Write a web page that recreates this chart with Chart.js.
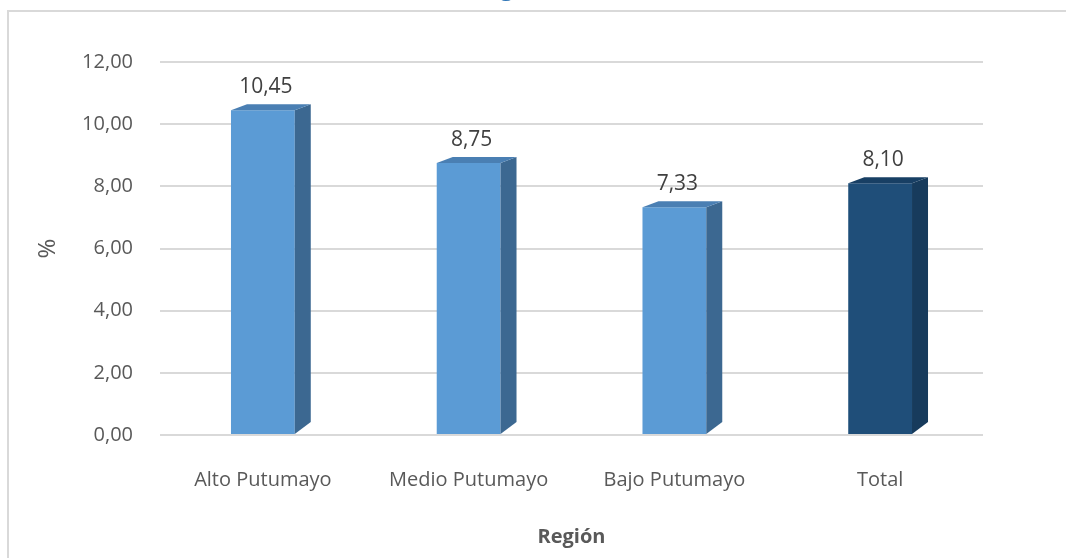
<!DOCTYPE html>
<html>
<head>
<meta charset="utf-8">
<script src="https://cdn.jsdelivr.net/npm/chart.js@4/dist/chart.umd.min.js"></script>
<style>
  html, body { margin: 0; padding: 0; background: #fff; }
  #wrap { width: 1066px; height: 558px; position: relative; }
</style>
</head>
<body>
<div id="wrap"><canvas id="chart" width="1066" height="558"></canvas></div>
<script>
// ─── Data ─────────────────────────────────────────────────────────────────────
const regiones = ['Alto Putumayo', 'Medio Putumayo', 'Bajo Putumayo', 'Total'];
const valores  = [10.45, 8.75, 7.33, 8.10];
const yTicks   = [0, 2, 4, 6, 8, 10, 12];

const frontCol = ['#5b9bd5', '#5b9bd5', '#5b9bd5', '#1f4e79'];
const sideCol  = ['#3c6891', '#3c6891', '#3c6891', '#173b5c'];
const topCol   = ['#4a7fb3', '#4a7fb3', '#4a7fb3', '#183f64'];

const fmt = v => v.toFixed(2).replace('.', ',');

// frame + cut-off title fragment
const framePlugin = {
  id: 'frame',
  beforeDraw(chart) {
    const c = chart.ctx;
    c.save();
    c.strokeStyle = '#d9d9d9';
    c.lineWidth = 2;
    c.beginPath();
    c.moveTo(8, 558); c.lineTo(8, 11); c.lineTo(1066, 11);
    c.stroke();
    c.fillStyle = '#2e75b6';
    c.font = 'bold 24px "Open Sans"';
    c.textAlign = 'left';
    c.textBaseline = 'alphabetic';
    c.fillText('Región', 470, -5);
    c.restore();
  }
};

// side + top faces for a bit of depth, and value labels
const depthPlugin = {
  id: 'depth',
  afterDatasetsDraw(chart) {
    const c = chart.ctx;
    const dx = 16, dy = 6;
    chart.getDatasetMeta(0).data.forEach((bar, i) => {
      const { x, y, base, width } = bar.getProps(['x', 'y', 'base', 'width'], true);
      const l = x - width / 2, r = x + width / 2;
      c.save();
      c.fillStyle = sideCol[i];
      c.beginPath();
      c.moveTo(r, y); c.lineTo(r + dx, y - dy); c.lineTo(r + dx, base - dy - 6); c.lineTo(r, base);
      c.closePath(); c.fill();
      c.fillStyle = topCol[i];
      c.beginPath();
      c.moveTo(l, y); c.lineTo(l + dx, y - dy); c.lineTo(r + dx, y - dy); c.lineTo(r, y);
      c.closePath(); c.fill();
      c.fillStyle = '#404040';
      c.font = '21px "Open Sans"';
      c.textAlign = 'center';
      c.textBaseline = 'alphabetic';
      c.fillText(fmt(valores[i]), x + 3, y - 17);
      c.restore();
    });
  }
};

new Chart(document.getElementById('chart'), {
  type: 'bar',
  data: {
    labels: regiones,
    datasets: [{
      data: valores,
      backgroundColor: frontCol,
      borderWidth: 0,
      categoryPercentage: 1,
      barPercentage: 0.31,
    }]
  },
  options: {
    responsive: false,
    animation: false,
    events: [],
    layout: { padding: { left: 30, right: 83, top: 62, bottom: 0 } },
    plugins: { legend: { display: false }, tooltip: { enabled: false }, title: { display: false } },
    scales: {
      x: {
        grid: { display: false },
        border: { display: false },
        ticks: { color: '#595959', font: { family: 'Open Sans', size: 20 }, padding: 25, maxRotation: 0 },
        title: { display: true, text: 'Región', color: '#595959', font: { family: 'Open Sans', size: 20, weight: 'bold' }, padding: { top: 0, bottom: 9 } },
        afterFit: s => { s.height = 123; }
      },
      y: {
        min: 0, max: 12,
        afterBuildTicks: s => { s.ticks = yTicks.map(v => ({ value: v })); },
        grid: { color: '#d9d9d9', lineWidth: 2, drawTicks: false },
        border: { display: false },
        ticks: { color: '#595959', font: { family: 'Open Sans', size: 20 }, padding: 27, callback: v => fmt(v) },
        title: { display: true, text: '%', color: '#595959', font: { family: 'Open Sans', size: 24 }, padding: 4 },
        afterFit: s => { s.width = 130; }
      }
    }
  },
  plugins: [framePlugin, depthPlugin]
});
</script>
</body>
</html>
